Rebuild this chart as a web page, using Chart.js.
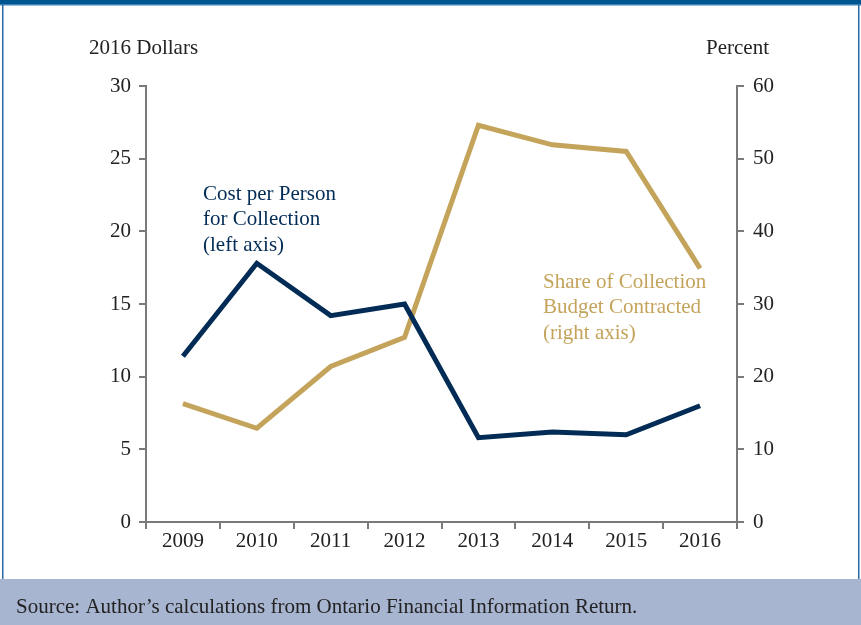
<!DOCTYPE html>
<html><head><meta charset="utf-8">
<script src="https://cdn.jsdelivr.net/npm/chart.js@4"></script>
<style>html,body{margin:0;padding:0;background:#fff}canvas{display:block}</style>
</head><body>
<div style="width:861px;height:625px;position:relative"><canvas id="c" width="861" height="625"></canvas></div>
<script>
const years = ['2009','2010','2011','2012','2013','2014','2015','2016'];
const costPerPerson = [11.4, 17.8, 14.2, 15.0, 5.8, 6.2, 6.0, 8.0];
const shareContracted = [16.3, 12.9, 21.4, 25.4, 54.6, 51.9, 51.0, 34.9];
const leftTicks = [0, 5, 10, 15, 20, 25, 30];
const rightTicks = [0, 10, 20, 30, 40, 50, 60];
const leftTitle = '2016 Dollars';
const rightTitle = 'Percent';
const costLabel = ['Cost per Person', 'for Collection', '(left axis)'];
const shareLabel = ['Share of Collection', 'Budget Contracted', '(right axis)'];
const sourceText = 'Source: Author\u2019s calculations from Ontario Financial Information Return.';

const NAVY = '#022c55', GOLD = '#c4a35a', AXIS = '#7a7a7a', TXT = '#222';
const FONT = '"Liberation Serif", "DejaVu Serif", serif';

const deco = {
  id: 'deco',
  beforeDraw(chart) {
    const c = chart.ctx;
    c.save();
    c.fillStyle = '#fff'; c.fillRect(0, 0, 861, 625);
    c.fillStyle = '#00568f'; c.fillRect(0, 0, 861, 4);
    c.fillStyle = '#3f7fbd'; c.fillRect(0, 4, 861, 1.5);
    c.fillStyle = '#2d6aa6'; c.fillRect(2, 4, 1.5, 575); c.fillRect(858, 4, 1.5, 575);
    c.fillStyle = '#a7b5d1'; c.fillRect(0, 579, 861, 46);
    c.restore();
  },
  afterDraw(chart) {
    const c = chart.ctx;
    c.save();
    c.font = '21px ' + FONT;
    c.textBaseline = 'middle';
    c.fillStyle = TXT;
    c.textAlign = 'left'; c.fillText(leftTitle, 89, 48);
    c.textAlign = 'right'; c.fillText(rightTitle, 769, 48);
    c.textAlign = 'left';
    c.fillStyle = NAVY;
    costLabel.forEach((t, i) => c.fillText(t, 203, 194 + i * 25.5));
    c.fillStyle = GOLD;
    shareLabel.forEach((t, i) => c.fillText(t, 543, 282 + i * 25.5));
    c.fillStyle = TXT;
    c.font = '21px ' + FONT;
    c.fillText(sourceText, 16, 607);
    c.restore();
  }
};

new Chart(document.getElementById('c'), {
  type: 'line',
  data: {
    labels: years,
    datasets: [
      { data: costPerPerson, yAxisID: 'yL', borderColor: NAVY, borderWidth: 5, pointRadius: 0, tension: 0, borderJoinStyle: 'miter' },
      { data: shareContracted, yAxisID: 'yR', borderColor: GOLD, borderWidth: 5, pointRadius: 0, tension: 0, borderJoinStyle: 'miter' }
    ]
  },
  options: {
    responsive: false,
    animation: false,
    devicePixelRatio: 1,
    layout: { padding: { top: 86, left: 0, right: 0, bottom: 0 } },
    plugins: { legend: { display: false }, tooltip: { enabled: false } },
    scales: {
      x: {
        offset: true,
        grid: { offset: true, drawOnChartArea: false, tickLength: 7, color: AXIS, lineWidth: 2 },
        border: { color: AXIS, width: 2 },
        ticks: { color: TXT, font: { family: FONT, size: 21 }, padding: 0, maxRotation: 0 },
        afterFit(s) { s.height = 625 - 522; }
      },
      yL: {
        position: 'left', min: 0, max: 30,
        afterBuildTicks(s) { s.ticks = leftTicks.map(v => ({ value: v })); },
        grid: { drawOnChartArea: false, tickLength: 7, color: AXIS, lineWidth: 2 },
        border: { color: AXIS, width: 2 },
        ticks: { color: TXT, font: { family: FONT, size: 21 }, padding: 8 },
        afterFit(s) { s.width = 146; }
      },
      yR: {
        position: 'right', min: 0, max: 60,
        afterBuildTicks(s) { s.ticks = rightTicks.map(v => ({ value: v })); },
        grid: { drawOnChartArea: false, tickLength: 7, color: AXIS, lineWidth: 2 },
        border: { color: AXIS, width: 2 },
        ticks: { color: TXT, font: { family: FONT, size: 21 }, padding: 9 },
        afterFit(s) { s.width = 861 - 737; }
      }
    }
  },
  plugins: [deco]
});
</script>
</body></html>
